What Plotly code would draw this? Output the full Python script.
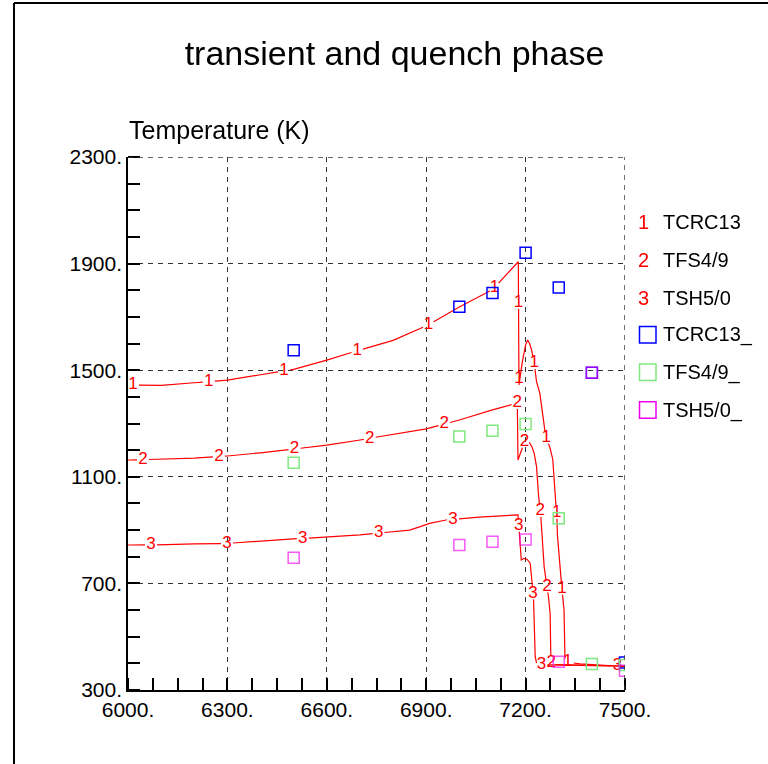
import numpy as np
import plotly.graph_objects as go

# ---------------- data ----------------
# calculated curves (time in s, temperature in K)
tcrc13_t = [6000, 6100, 6200, 6300, 6400, 6500, 6600, 6700, 6800, 6900, 7000, 7100, 7178,
            7180, 7190, 7200, 7206, 7212, 7218, 7226, 7233, 7243, 7253, 7261, 7274, 7282,
            7289, 7294, 7296, 7309, 7316, 7319, 7364, 7500]
tcrc13_v = [1444, 1443, 1453, 1463, 1483, 1503, 1538, 1576, 1612, 1666, 1737, 1802, 1907,
            1445, 1530, 1595, 1613, 1600, 1576, 1526, 1457, 1413, 1313, 1251, 1207, 1165,
            1013, 969, 882, 688, 600, 406, 398, 388]

tfs49_t = [6000, 6100, 6200, 6300, 6400, 6500, 6600, 6700, 6800, 6900, 7000, 7100, 7175,
           7177, 7197, 7209, 7219, 7226, 7233, 7239, 7246, 7256, 7263, 7269, 7274, 7274,
           7278, 7320, 7500]
tfs49_v = [1163, 1166, 1170, 1178, 1190, 1204, 1219, 1238, 1260, 1280, 1313, 1351, 1377,
           1163, 1232, 1234, 1213, 1188, 1138, 1032, 950, 763, 700, 650, 588, 462,
           396, 394, 390]

tsh50_t = [6000, 6100, 6200, 6300, 6400, 6500, 6600, 6700, 6800, 6850, 6880, 6910, 6960,
           7060, 7177, 7187, 7195, 7205, 7214, 7219, 7224, 7229, 7234, 7500]
tsh50_v = [844, 845, 848, 850, 859, 867, 874, 882, 894, 900, 912, 925, 938,
           949, 957, 788, 794, 790, 775, 713, 638, 425, 395, 390]

# experimental points
exp_t = [6500, 7000, 7100, 7200, 7300, 7400, 7500]
tcrc13_exp = [1575, 1738, 1790, 1941, 1810, 1490, 403]
tfs49_exp = [1153, 1251, 1273, 1298, 944, 398, 394]
tsh50_exp = [796, 844, 856, 865, 406, 1490, 372]

curve_names = ["TCRC13", "TFS4/9", "TSH5/0"]
curve_tags = ["1", "2", "3"]
exp_names = ["TCRC13_", "TFS4/9_", "TSH5/0_"]

x_ticks = [6000, 6300, 6600, 6900, 7200, 7500]
y_ticks = [300, 700, 1100, 1500, 1900, 2300]
x_ticktext = [f"{v}." for v in x_ticks]
y_ticktext = [f"{v}." for v in y_ticks]

# ---------------- style ----------------
FONT = "Liberation Sans, Arial, sans-serif"
W, H = 768, 764
L, R, T, B = 128, 625, 157, 690          # plot area in pixels
XPX = (R - L) / 1500.0
YPX = (B - T) / 2000.0
RED = "#ff0000"
GRID = "#333333"
exp_colors = ["#0000ff", "#80e880", "#ee00ee"]


def labelled_path(t, v, offset, spacing=76.0, gap=6.0):
    t = np.asarray(t, float)
    v = np.asarray(v, float)
    px = (t - t[0]) * XPX
    py = v * YPX
    s = np.concatenate([[0.0], np.cumsum(np.hypot(np.diff(px), np.diff(py)))])
    total = s[-1]
    marks = np.arange(offset, total, spacing)
    lx = np.interp(marks, s, t)
    ly = np.interp(marks, s, v)
    bounds = [0.0]
    for m in marks:
        bounds += [max(m - gap, 0.0), min(m + gap, total)]
    bounds.append(total)
    xs, ys = [], []
    for a, b in zip(bounds[0::2], bounds[1::2]):
        if b <= a:
            continue
        inner = s[(s > a) & (s < b)]
        ss = np.concatenate([[a], inner, [b]])
        xs += list(np.interp(ss, s, t)) + [None]
        ys += list(np.interp(ss, s, v)) + [None]
    return xs, ys, lx, ly


fig = go.Figure()

curves = [(tcrc13_t, tcrc13_v, 5), (tfs49_t, tfs49_v, 15), (tsh50_t, tsh50_v, 23)]
for (t, v, off), name, tag in zip(curves, curve_names, curve_tags):
    xs, ys, lx, ly = labelled_path(t, v, off)
    fig.add_trace(go.Scatter(x=xs, y=ys, mode="lines", name=name,
                             line=dict(color=RED, width=1.2), showlegend=False,
                             hoverinfo="skip"))
    fig.add_trace(go.Scatter(x=lx, y=ly, mode="text", text=[tag] * len(lx),
                             textfont=dict(family=FONT, size=17, color=RED),
                             textposition="middle center", showlegend=False,
                             hoverinfo="skip"))

exp_series = [tcrc13_exp, tfs49_exp, tsh50_exp]
exp_opac = [1.0, 1.0, 0.65]
for vals, name, col, op in zip(exp_series, exp_names, exp_colors, exp_opac):
    fig.add_trace(go.Scatter(x=exp_t, y=vals, mode="markers", name=name, opacity=op,
                             marker=dict(symbol="square-open", size=11, color=col,
                                         line=dict(width=1.5)),
                             showlegend=False))

axis_common = dict(showgrid=True, gridcolor=GRID, gridwidth=1.2, griddash="5px,5px",
                   showline=True, linecolor="black", linewidth=1.5, ticks="",
                   zeroline=False, tickfont=dict(family=FONT, size=21, color="black"))

fig.update_xaxes(range=[x_ticks[0], x_ticks[-1]], tickvals=x_ticks, ticktext=x_ticktext,
                 minor=dict(tick0=6000, dtick=75, ticks="inside", ticklen=12,
                            tickcolor="black", tickwidth=1.5, showgrid=False),
                 **axis_common)
fig.update_yaxes(range=[y_ticks[0], y_ticks[-1]], tickvals=y_ticks, ticktext=y_ticktext,
                 minor=dict(tick0=300, dtick=100, ticks="inside", ticklen=12,
                            tickcolor="black", tickwidth=1.5, showgrid=False),
                 **axis_common)


def px2paper_x(px):
    return (px - L) / (R - L)


def px2paper_y(py):
    return (B - py) / (B - T)


annotations = [
    dict(text="Temperature (K)", x=px2paper_x(127), y=px2paper_y(130), xref="paper",
         yref="paper", xanchor="left", yanchor="middle", showarrow=False,
         font=dict(family=FONT, size=25, color="black")),
]
dash_line = dict(color=GRID, width=1.4, dash="5px,5px")
shapes = [
    # outer frame (left and top edges visible)
    dict(type="line", xref="paper", yref="paper", x0=px2paper_x(14), x1=px2paper_x(14),
         y0=px2paper_y(H), y1=px2paper_y(3), line=dict(color="black", width=2)),
    dict(type="line", xref="paper", yref="paper", x0=px2paper_x(14), x1=px2paper_x(W),
         y0=px2paper_y(3), y1=px2paper_y(3), line=dict(color="black", width=2)),
    # dashed grid lines on the top and right borders of the plot
    dict(type="line", xref="x", yref="y", x0=x_ticks[0], x1=x_ticks[-1],
         y0=y_ticks[-1], y1=y_ticks[-1], line=dash_line),
    dict(type="line", xref="x", yref="y", x0=x_ticks[-1], x1=x_ticks[-1],
         y0=y_ticks[0], y1=y_ticks[-1], line=dash_line),
]

legend_rows = [221.7, 260.0, 298.3, 334.7, 372.3, 410.0]
for i, name in enumerate(curve_names):
    yy = px2paper_y(legend_rows[i])
    annotations.append(dict(text=curve_tags[i], x=px2paper_x(643), y=yy, xref="paper",
                            yref="paper", xanchor="center", yanchor="middle",
                            showarrow=False, font=dict(family=FONT, size=20, color=RED)))
    annotations.append(dict(text=name, x=px2paper_x(661), y=yy, xref="paper",
                            yref="paper", xanchor="left", yanchor="middle",
                            showarrow=False, font=dict(family=FONT, size=20, color="black")))
for j, name in enumerate(exp_names):
    py = legend_rows[3 + j]
    yy = px2paper_y(py)
    shapes.append(dict(type="rect", xref="paper", yref="paper",
                       x0=px2paper_x(639.5), x1=px2paper_x(656),
                       y0=px2paper_y(py + 8.3), y1=px2paper_y(py - 8.3),
                       line=dict(color=exp_colors[j], width=1.5)))
    annotations.append(dict(text=name, x=px2paper_x(661), y=yy, xref="paper",
                            yref="paper", xanchor="left", yanchor="middle",
                            showarrow=False, font=dict(family=FONT, size=20, color="black")))

fig.update_layout(
    width=W, height=H,
    margin=dict(l=L, r=W - R, t=T, b=H - B),
    paper_bgcolor="white", plot_bgcolor="white",
    title=dict(text="transient and quench phase", x=394.5 / W, xref="container",
               xanchor="center", y=1 - 53 / H, yref="container", yanchor="middle",
               font=dict(family=FONT, size=34, color="black")),
    annotations=annotations, shapes=shapes, showlegend=False,
)

fig.write_html("out.html", config={"displayModeBar": False})
